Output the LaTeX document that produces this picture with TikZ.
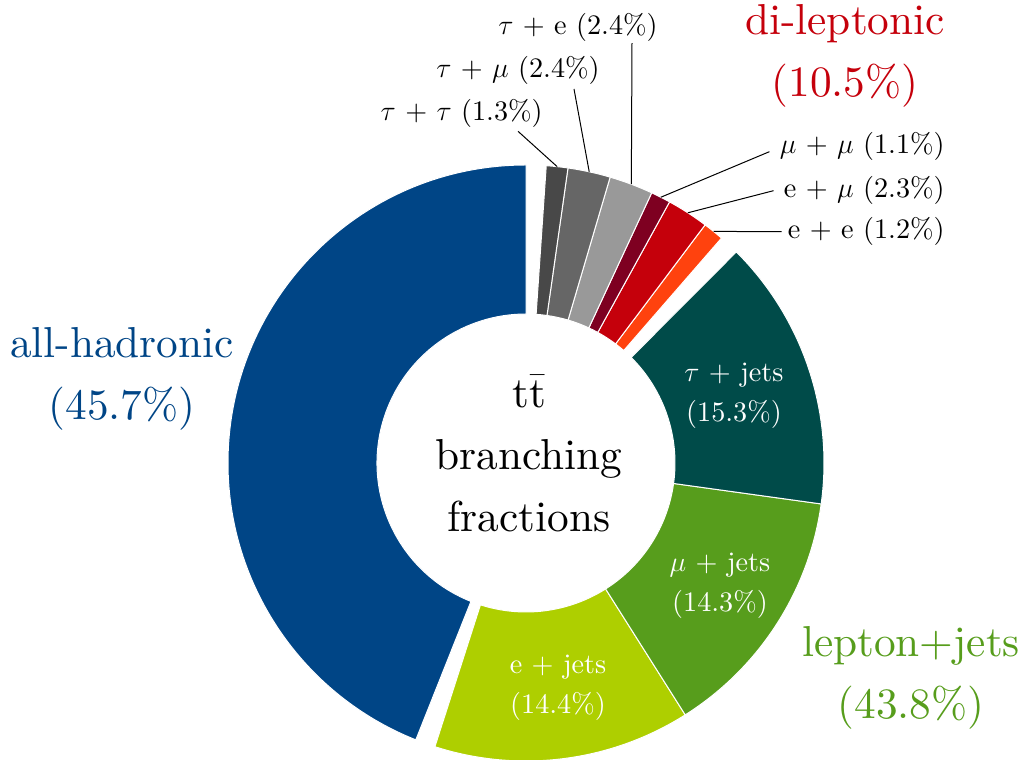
\RequirePackage{fix-cm}
\documentclass[tikz,border=0pt]{standalone}
\usepackage{fontspec}
\setmainfont{lmroman10-regular.otf}
\usetikzlibrary{calc}
\definecolor{hadblue}{HTML}{004586}
\definecolor{ejets}{HTML}{AECF00}
\definecolor{mujets}{HTML}{579D1C}
\definecolor{taujets}{HTML}{004B49}
\definecolor{eecol}{HTML}{FF420E}
\definecolor{emucol}{HTML}{C5000B}
\definecolor{mumucol}{HTML}{7E0021}
\definecolor{tauecol}{HTML}{999999}
\definecolor{taumucol}{HTML}{666666}
\definecolor{tautaucol}{HTML}{484848}
\definecolor{ljgreen}{HTML}{579D1C}
\definecolor{dlred}{HTML}{C5000B}
\tikzset{
  bigtext/.style={font=\fontsize{21.65}{31}\selectfont, align=center, inner sep=0pt},
  slicetext/.style={text=white, font=\fontsize{14.1}{20}\selectfont, align=center, inner sep=0pt},
  smalltext/.style={font=\fontsize{14.1}{17}\selectfont, inner sep=0pt},
  leader/.style={draw=black, line width=0.5pt},
  sectorline/.style={draw=white, line width=0.5pt}
}
\newcommand\donutsector[3]{%
  \fill[#1, sectorline] ($(C)+(#2:298)$) arc[start angle=#2, end angle=#3, radius=298]
    -- ($(C)+(#3:149)$) arc[start angle=#3, end angle=#2, radius=149] -- cycle;}
\begin{document}
\begin{tikzpicture}[x=0.5pt,y=0.5pt]
\useasboundingbox (0,0) rectangle (1030,760);
\coordinate (C) at (526,297);
% sectors
\donutsector{hadblue}{90}{248.3}
\donutsector{ejets}{252.2}{302.3}
\donutsector{mujets}{302.3}{352.1}
\donutsector{taujets}{352.1}{405.1}
\donutsector{eecol}{49}{53.05}
\donutsector{emucol}{53.05}{61.2}
\donutsector{mumucol}{61.2}{65.05}
\donutsector{tauecol}{65.05}{73.6}
\donutsector{taumucol}{73.6}{81.9}
\donutsector{tautaucol}{81.9}{86.1}
% slice anchor points for leaders
\coordinate (stt) at ($(C)+(84:298)$);
\coordinate (stm) at ($(C)+(77.75:298)$);
\coordinate (ste) at ($(C)+(69.3:298)$);
\coordinate (smm) at ($(C)+(63.1:298)$);
\coordinate (sem) at ($(C)+(57.1:298)$);
\coordinate (see) at ($(C)+(51:298)$);
% centre text
\node[bigtext] (title) at (529,302.8) {\strut t$\bar{\hbox{t}}$\\\strut branching\\\strut fractions};
% group labels
\node[bigtext, text=hadblue] (lhad) at (122,384) {\strut all-hadronic\\\strut(45.7\%)};
\node[bigtext, text=dlred] (ldl) at (845,706.4) {\strut di-leptonic\\\strut(10.5\%)};
\node[bigtext, text=ljgreen] (llj) at (911,85) {\strut lepton+jets\\\strut(43.8\%)};
% slice labels
\node[slicetext] (ltj) at (734,366.4) {\strut$\tau$ + jets\\\strut(15.3\%)};
\node[slicetext] (lmj) at (720,176.7) {\strut$\mu$ + jets\\\strut(14.3\%)};
\node[slicetext] (lej) at (558,74.9) {\strut e + jets\\\strut(14.4\%)};
% small labels
\node[smalltext, anchor=south east] (ltt) at (543,631.7) {$\tau$ + $\tau$ (1.3\%)};
\node[smalltext, anchor=south east] (ltm) at (600,675) {$\tau$ + $\mu$ (2.4\%)};
\node[smalltext, anchor=south east] (lte) at (658,718.3) {$\tau$ + e (2.4\%)};
\node[smalltext, anchor=east] (lmm) at (945,613.3) {$\mu$ + $\mu$ (1.1\%)};
\node[smalltext, anchor=east] (lem) at (945,569.3) {e + $\mu$ (2.3\%)};
\node[smalltext, anchor=east] (lee) at (945,528.3) {e + e (1.2\%)};
% leaders
\draw[leader] (stt) -- ([shift={(-25,-3)}]ltt.south east);
\draw[leader] (stm) -- ([shift={(-26,-4)}]ltm.south east);
\draw[leader] (ste) -- ([shift={(-26,-1.5)}]lte.south east);
\draw[leader] (smm) -- ([shift={(-10,-5)}]lmm.west);
\draw[leader] (sem) -- ([shift={(-10,0)}]lem.west);
\draw[leader] (see) -- ([shift={(-6,0)}]lee.west);
\end{tikzpicture}
\end{document}
